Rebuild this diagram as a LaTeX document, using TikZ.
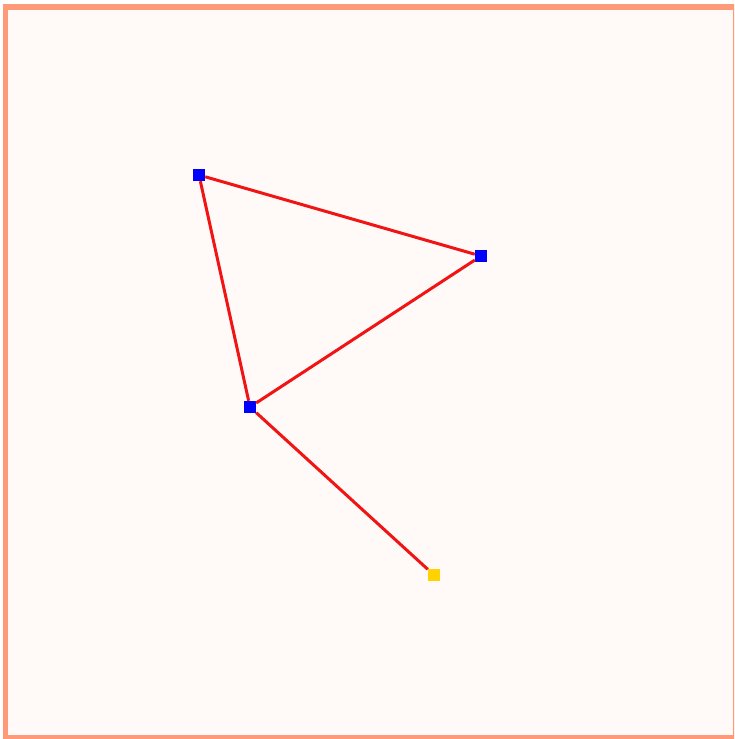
\documentclass[tikz,border=0pt]{standalone}
\usetikzlibrary{calc}

\definecolor{framecol}{RGB}{255,154,120}
\definecolor{paper}{RGB}{255,250,248}
\definecolor{vtxblue}{RGB}{0,0,255}
\definecolor{vtxgold}{RGB}{255,210,0}
\definecolor{edgered}{RGB}{240,20,20}

\begin{document}
\begin{tikzpicture}[x=1pt, y=-1pt,
    vertex/.style={rectangle, fill=vtxblue, inner sep=0pt, minimum size=12pt},
    endpt/.style={vertex, fill=vtxgold},
    edge/.style={draw=edgered, line width=3pt}]
  % Canvas: fixed size, with the frame running off the right edge.
  \useasboundingbox (0,0) rectangle (734,739);
  \clip (0,0) rectangle (734,739);
  \draw[fill=paper, draw=framecol, line width=5.5pt] (5.5,7) rectangle (736,737.5);
  % The four points.
  \node[vertex] (top)   at (199,175) {};
  \node[vertex] (right) at (481,256) {};
  \node[vertex] (mid)   at (250,407) {};
  \node[endpt]  (tail)  at (434,575) {};
  % Triangle and the tail segment.
  \draw[edge] (top) -- (right);
  \draw[edge] (right) -- (mid);
  \draw[edge] (mid) -- (top);
  \draw[edge] (mid) -- (tail);
\end{tikzpicture}
\end{document}
